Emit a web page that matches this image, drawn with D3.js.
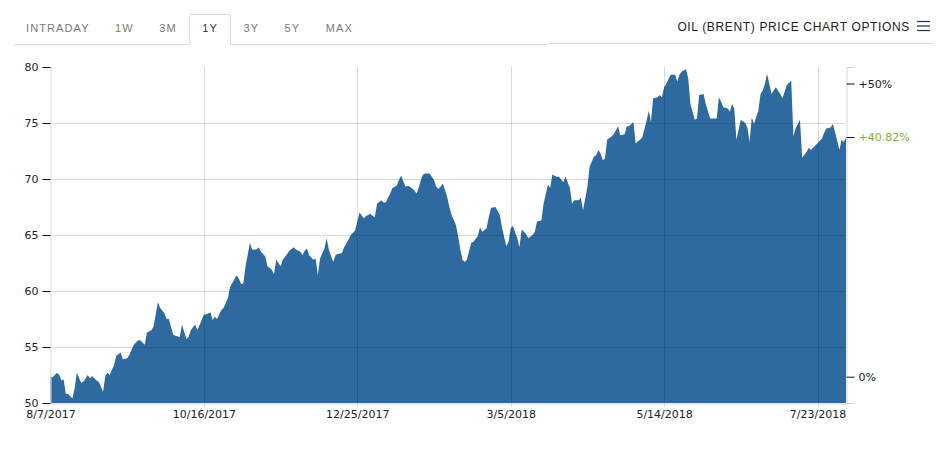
<!DOCTYPE html>
<html>
    <head>
        <meta charset="utf-8">
        <title>Oil (Brent) price chart</title>
        <script src="https://d3js.org/d3.v7.min.js"></script>
        <style>
            body { margin: 0; background: #fff; }
            svg { display: block; }
        </style>
    </head>
    <body>
        <div id="my_dataviz"></div>

        <script>

            // tabs above the chart, the selected one is "1Y"
            var tabs = ["INTRADAY", "1W", "3M", "1Y", "3Y", "5Y", "MAX"];
            var selectedTab = "1Y";
            var chartTitle = "OIL (BRENT) PRICE CHART OPTIONS";

            // price axis ticks and date ticks
            var priceTicks = [50, 55, 60, 65, 70, 75, 80];
            var dateTicks = ["8/7/2017", "10/16/2017", "12/25/2017", "3/5/2018", "5/14/2018", "7/23/2018"];
            var pctTicks = [0, 0.5];

            // days after 8/7/2017
            var dayOffsets = [
                0, 1, 3, 4, 5, 6, 7, 8, 10, 11, 12, 14, 15, 17, 18, 19, 21, 22, 24, 25, 26, 27, 29, 30, 32, 33, 35, 36, 38, 40,
                41, 43, 44, 46, 47, 49, 50, 52, 53, 54, 56, 57, 59, 60, 62, 63, 64, 66, 67, 69, 70, 71, 73, 74, 75, 76, 78, 79, 81, 82,
                85, 86, 87, 88, 89, 91, 92, 94, 95, 96, 98, 99, 101, 102, 103, 105, 106, 108, 109, 111, 112, 114, 115, 116, 117, 118, 120, 121, 122, 123,
                125, 126, 127, 129, 130, 131, 133, 134, 136, 137, 139, 140, 141, 143, 144, 146, 147, 148, 149, 151, 152, 153, 155, 156, 158, 159, 160, 162, 163, 164,
                166, 167, 168, 169, 170, 171, 173, 175, 176, 177, 178, 179, 181, 182, 183, 185, 186, 187, 188, 189, 190, 192, 193, 195, 196, 197, 199, 200, 201, 203,
                205, 206, 208, 209, 210, 211, 213, 214, 215, 217, 218, 220, 221, 222, 224, 225, 227, 228, 229, 231, 232, 234, 235, 237, 238, 239, 241, 242, 243, 245,
                246, 248, 249, 250, 251, 252, 253, 254, 256, 257, 259, 260, 262, 263, 264, 266, 267, 269, 270, 272, 273, 274, 275, 277, 278, 279, 280, 281, 283, 284,
                285, 286, 287, 288, 290, 291, 292, 294, 295, 296, 298, 299, 301, 303, 304, 305, 306, 307, 309, 310, 311, 312, 313, 315, 317, 318, 319, 320, 321, 323,
                324, 325, 326, 327, 329, 330, 331, 333, 334, 335, 336, 338, 339, 340, 342, 343, 345, 346, 347, 349, 350, 352, 353, 354, 356, 357, 358, 360, 361, 362,
                363
            ];

            // closing price in USD per barrel
            var prices = [
                52.35, 52.3, 52.7, 52.5, 52.0, 52.1, 50.8, 50.8, 50.4, 51.3, 52.7, 51.8, 51.9, 52.5, 52.2, 52.4, 52.0, 51.9, 51.0, 52.4, 52.7, 52.5, 53.4, 54.2, 54.5, 53.9, 54.0, 54.3, 55.2, 55.6,
                55.6, 55.2, 56.3, 56.5, 56.8, 59.0, 58.5, 58.0, 57.5, 57.5, 56.1, 56.0, 55.9, 57.0, 55.7, 55.9, 56.5, 57.0, 56.5, 57.4, 57.9, 57.9, 58.1, 57.4, 57.7, 57.5, 58.3, 58.5, 59.4, 60.4,
                61.4, 61.1, 60.6, 60.7, 62.2, 64.3, 63.7, 63.7, 63.9, 63.5, 63.1, 62.2, 61.9, 61.5, 62.8, 62.2, 62.8, 63.3, 63.6, 63.9, 63.7, 63.5, 63.2, 63.6, 63.8, 63.2, 62.8, 62.9, 61.4, 62.9,
                63.8, 64.7, 63.7, 62.6, 63.2, 63.3, 63.4, 63.9, 64.6, 65.0, 65.4, 66.2, 67.0, 66.5, 66.7, 66.9, 66.7, 66.6, 67.8, 68.1, 67.9, 67.9, 68.7, 69.2, 69.4, 69.9, 70.3, 69.3, 69.4, 69.3,
                69.0, 68.7, 69.2, 69.9, 70.4, 70.5, 70.5, 69.9, 69.3, 69.1, 69.3, 69.6, 68.4, 67.5, 66.8, 65.9, 64.9, 63.7, 62.8, 62.6, 62.8, 64.3, 64.4, 64.9, 65.7, 65.3, 65.6, 66.6, 67.4, 67.5,
                66.8, 65.7, 64.0, 64.4, 65.6, 65.8, 64.7, 63.9, 65.5, 65.1, 64.7, 65.0, 65.3, 66.2, 66.3, 67.8, 69.5, 69.2, 70.4, 70.2, 70.2, 69.7, 70.2, 69.2, 67.8, 68.1, 68.1, 68.3, 67.2, 69.3,
                71.1, 72.0, 72.1, 72.6, 72.3, 71.7, 71.8, 73.5, 73.8, 74.0, 74.7, 73.9, 74.0, 74.7, 74.7, 75.1, 73.2, 73.5, 73.7, 75.2, 76.1, 75.1, 77.2, 77.3, 77.5, 77.3, 78.2, 78.5, 79.3, 79.3,
                79.3, 78.7, 79.3, 79.6, 79.8, 79.0, 76.7, 75.3, 75.4, 77.5, 77.6, 76.7, 75.4, 75.4, 75.4, 77.3, 76.9, 76.4, 76.3, 76.0, 76.7, 76.3, 73.5, 75.3, 75.0, 74.6, 73.3, 75.5, 74.9, 76.1,
                77.6, 77.9, 78.5, 79.4, 77.6, 77.9, 78.2, 77.6, 77.2, 77.8, 78.4, 78.8, 73.8, 74.5, 75.3, 71.9, 72.4, 72.8, 72.6, 73.0, 73.2, 73.6, 74.1, 74.5, 74.6, 74.9, 74.2, 72.6, 73.5, 73.3,
                73.72
            ];

            var W = 951, H = 459;
            var plot = {left: 50, right: 846, top: 67, bottom: 403};

            var parseDate = d3.timeParse("%-m/%-d/%Y");
            var startDate = parseDate(dateTicks[0]);
            var data = dayOffsets.map(function (d, i) {
                return {date: d3.timeDay.offset(startDate, d), price: prices[i]};
            });

            var svg = d3.select("#my_dataviz")
              .append("svg")
                .attr("width", W)
                .attr("height", H);

            // ---- tabs ----
            var tabG = svg.append("g");
            var tabX = 26;
            tabs.forEach(function (t) {
                var txt = tabG.append("text")
                    .attr("x", tabX)
                    .attr("y", 32)
                    .style("font-family", "'Liberation Sans', Arial, sans-serif")
                    .style("font-size", "11px")
                    .style("letter-spacing", "1.1px")
                    .style("fill", t == selectedTab ? "#333" : "#7a7a7a")
                    .text(t);
                var w = txt.node().getComputedTextLength();
                if (t == selectedTab) {
                    tabG.insert("path", "text")
                        .attr("d", "M" + (tabX - 12.5) + ",44.5 V14.5 H" + (tabX + w + 12.5) + " V44.5")
                        .attr("fill", "#fff")
                        .attr("stroke", "#ddd");
                    tabG.insert("line", "path")
                        .attr("x1", 13).attr("x2", tabX - 12.5)
                        .attr("y1", 44.5).attr("y2", 44.5)
                        .attr("stroke", "#ddd");
                    tabG.insert("line", "path")
                        .attr("x1", tabX + w + 12.5).attr("x2", 548)
                        .attr("y1", 44.5).attr("y2", 44.5)
                        .attr("stroke", "#ddd");
                }
                tabX += w + 25.5;
            });

            // right side divider and title
            svg.append("line")
                .attr("x1", 549).attr("x2", 933)
                .attr("y1", 43.5).attr("y2", 43.5)
                .attr("stroke", "#ddd");

            svg.append("text")
                .attr("x", 910)
                .attr("y", 31)
                .attr("text-anchor", "end")
                .style("font-family", "'Liberation Sans', Arial, sans-serif")
                .style("font-size", "12px")
                .style("letter-spacing", "0.65px")
                .style("fill", "#222")
                .text(chartTitle);

            // hamburger icon
            svg.append("g")
                .selectAll("line")
                .data([21.5, 26, 30.5])
                .enter()
                .append("line")
                  .attr("x1", 917).attr("x2", 930)
                  .attr("y1", function (d) { return d; })
                  .attr("y2", function (d) { return d; })
                  .attr("stroke", "#2b3c58")
                  .attr("stroke-width", 1.3);

            // ---- scales ----
            var x = d3.scaleTime()
                .domain(d3.extent(data, function (d) { return d.date; }))
                .range([plot.left + 0.5, plot.right]);

            var y = d3.scaleLinear()
                .domain([priceTicks[0], priceTicks[priceTicks.length - 1]])
                .range([plot.bottom, plot.top]);

            var base = prices[0];
            var last = prices[prices.length - 1];
            var yPct = d3.scaleLinear()
                .domain([priceTicks[0] / base - 1, priceTicks[priceTicks.length - 1] / base - 1])
                .range([plot.bottom, plot.top]);

            // ---- area ----
            var area = d3.area()
                .x(function (d) { return x(d.date); })
                .y0(plot.bottom)
                .y1(function (d) { return y(d.price); });

            svg.append("path")
                .datum(data)
                .attr("d", area)
                .attr("fill", "#2e6a9f");

            // ---- grid lines (drawn over the area, semi transparent) ----
            var grid = svg.append("g")
                .attr("stroke", "#000")
                .attr("stroke-opacity", 0.14);

            grid.selectAll(".hgrid")
                .data(priceTicks.slice(1, -1))
                .enter()
                .append("line")
                  .attr("x1", plot.left)
                  .attr("x2", plot.right)
                  .attr("y1", function (d) { return Math.round(y(d)) + 0.5; })
                  .attr("y2", function (d) { return Math.round(y(d)) + 0.5; });

            grid.selectAll(".vgrid")
                .data(dateTicks.slice(1))
                .enter()
                .append("line")
                  .attr("x1", function (d) { return Math.round(x(parseDate(d))) + 0.5; })
                  .attr("x2", function (d) { return Math.round(x(parseDate(d))) + 0.5; })
                  .attr("y1", plot.top)
                  .attr("y2", plot.bottom + 4);

            // ---- axes ----
            var axisFont = "'DejaVu Sans', Verdana, sans-serif";

            var leftAxis = svg.append("g")
                .attr("transform", "translate(" + (plot.left + 0.5) + ",0)")
                .call(d3.axisLeft(y).tickValues(priceTicks).tickSize(8).tickPadding(4));
            leftAxis.select(".domain").attr("stroke", "#d6d6d6");
            leftAxis.selectAll(".tick line").attr("stroke", "#111");
            leftAxis.selectAll(".tick text")
                .style("font-family", axisFont)
                .style("font-size", "11px")
                .style("fill", "#222");

            var bottomAxis = svg.append("g")
                .attr("transform", "translate(0," + (plot.bottom + 0.5) + ")")
                .call(d3.axisBottom(x)
                    .tickValues(dateTicks.map(parseDate))
                    .tickFormat(d3.timeFormat("%-m/%-d/%Y"))
                    .tickSize(0)
                    .tickPadding(7));
            bottomAxis.select(".domain").attr("stroke", "#c9d6e4");
            bottomAxis.selectAll(".tick text")
                .style("font-family", axisFont)
                .style("font-size", "11px")
                .style("fill", "#222");

            var rightAxis = svg.append("g")
                .attr("transform", "translate(" + (plot.right + 0.5) + ",0)")
                .call(d3.axisRight(yPct)
                    .tickValues(pctTicks)
                    .tickFormat(function (d) { return d > 0 ? "+" + d3.format(".0%")(d) : d3.format(".0%")(d); })
                    .tickSize(8)
                    .tickPadding(4));
            rightAxis.select(".domain").attr("stroke", "#d6d6d6");
            rightAxis.selectAll(".tick line").attr("stroke", "#111");
            rightAxis.selectAll(".tick text")
                .style("font-family", axisFont)
                .style("font-size", "11px")
                .style("fill", "#222");

            // current change marker
            var change = last / base - 1;
            var cur = rightAxis.append("g")
                .attr("transform", "translate(0," + (Math.round(yPct(change)) + 0.5) + ")");
            cur.append("line")
                .attr("x2", 8)
                .attr("stroke", "#111");
            cur.append("text")
                .attr("x", 12)
                .attr("dy", "0.32em")
                .style("font-family", axisFont)
                .style("font-size", "11px")
                .style("fill", "#78b52c")
                .text("+" + d3.format(".2f")(change * 100) + "%");

        </script>
    </body>
</html>
